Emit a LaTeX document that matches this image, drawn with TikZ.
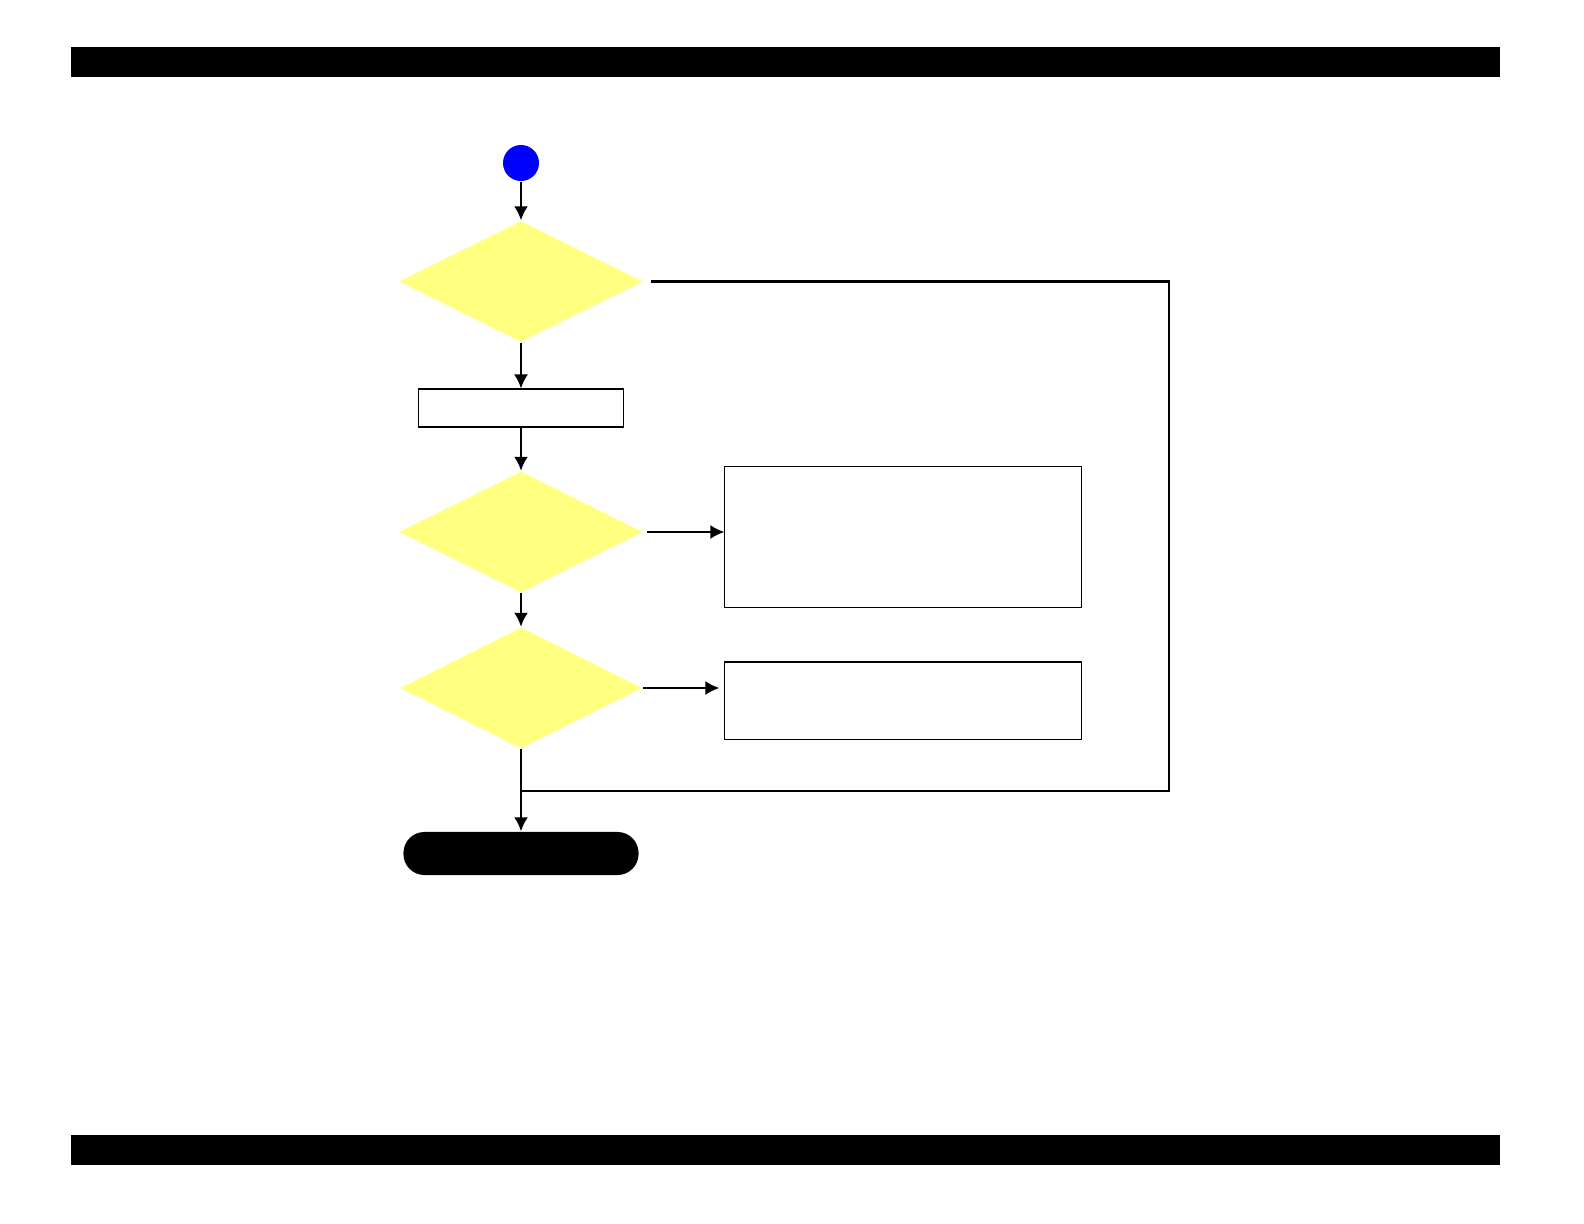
\documentclass[tikz,border=0pt]{standalone}
\usetikzlibrary{shapes.geometric,arrows.meta,positioning}
\definecolor{decfill}{RGB}{255,255,128}
\definecolor{startblue}{RGB}{0,0,255}
\tikzset{
	decision/.style={diamond, fill=decfill, inner sep=0pt, minimum width=2.44cm, minimum height=1.21cm},
	procbox/.style={rectangle, draw, line width=0.3pt, inner sep=0pt},
	terminal/.style={rectangle, fill=black, rounded corners=0.21cm, inner sep=0pt, minimum width=2.35cm, minimum height=0.43cm},
	flow/.style={-{Latex[length=0.14cm,width=0.14cm]}, line width=0.6pt},
	line/.style={line width=0.6pt}
}

\begin{document}
\begin{tikzpicture}[x=0.01cm, y=-0.01cm]
	\useasboundingbox (0,0) rectangle (1584,1224);
	% page bars
	\fill (71,47) rectangle (1500,77);
	\fill (71,1135) rectangle (1500,1165);

	\node[circle, fill=startblue, inner sep=0pt, minimum size=0.36cm] (start) at (521,163) {};
	\node[decision] (dec1) at (521,281.5) {};
	\node[procbox, minimum width=2.05cm, minimum height=0.38cm] (box1) at (521,408) {};
	\node[decision] (dec2) at (521,532) {};
	\node[procbox, minimum width=3.56cm, minimum height=1.40cm] (box2) at (903,537) {};
	\node[decision, minimum width=2.42cm] (dec3) at (521,688) {};
	\node[procbox, minimum width=3.56cm, minimum height=0.77cm] (box3) at (903,700.5) {};
	\node[terminal] (stop) at (521,853.5) {};

	\coordinate (corner) at (1169,791);
	\coordinate (join) at (521,791);

	% arrows
	\draw[flow] (start) -- (dec1);
	\draw[flow] (dec1) -- (box1);
	\draw[flow] (box1) -- (dec2);
	\draw[flow] (dec2) -- (dec3);
	\draw[flow, shorten <=0.03cm] (dec2.east) -- (dec2.east -| box2.west);
	\draw[flow] (dec3.east) -- ([xshift=-0.05cm]dec3.east -| box3.west);
	\draw[flow] (dec3) -- (stop);
	\draw[line, shorten <=0.07cm] (dec1.east) -| (corner) -- (join);
\end{tikzpicture}
\end{document}
